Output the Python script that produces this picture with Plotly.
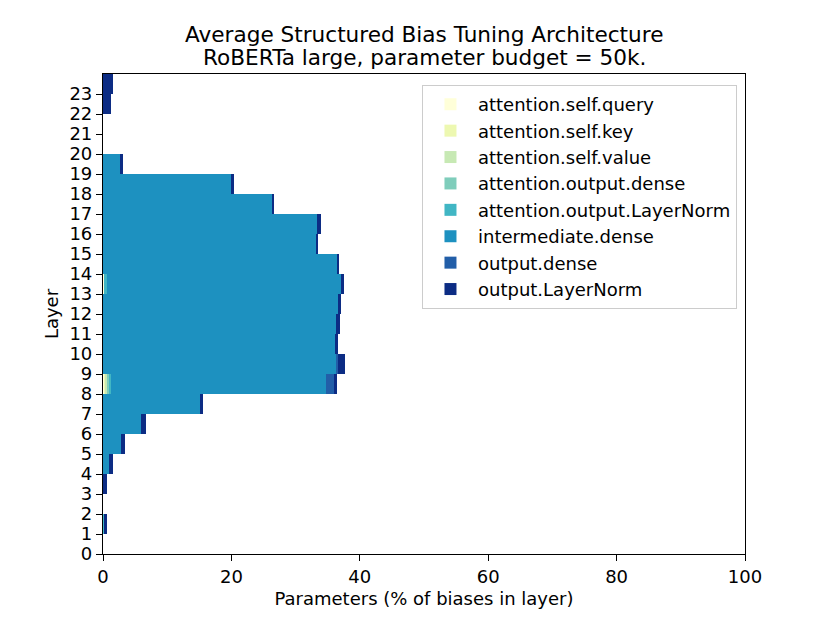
import plotly.graph_objects as go

layers = list(range(24))

components = [
    'attention.self.query',
    'attention.self.key',
    'attention.self.value',
    'attention.output.dense',
    'attention.output.LayerNorm',
    'intermediate.dense',
    'output.dense',
    'output.LayerNorm',
]

colors = ['#ffffd9', '#edf8b1', '#c7e9b4', '#7fcdbb',
          '#41b6c4', '#1d91c0', '#225ea8', '#0c2c84']

# % of biases in layer, per component (layers 0..23)
query = [0, 0, 0, 0, 0, 0, 0, 0, 0.3, 0, 0, 0, 0, 0.2, 0, 0, 0, 0, 0, 0, 0, 0, 0, 0]
key = [0, 0, 0, 0, 0, 0, 0, 0, 0.15, 0, 0, 0, 0, 0, 0, 0, 0, 0, 0, 0, 0, 0, 0, 0]
value = [0, 0, 0, 0, 0, 0, 0, 0, 0.2, 0, 0, 0, 0, 0, 0, 0, 0, 0, 0, 0, 0, 0, 0, 0]
att_dense = [0, 0, 0, 0, 0, 0, 0, 0, 0.3, 0, 0, 0, 0, 0, 0, 0, 0, 0, 0, 0, 0, 0, 0, 0]
att_ln = [0, 0.26, 0, 0, 0, 0, 0, 0, 0.35, 0, 0, 0, 0, 0.35, 0, 0, 0, 0, 0, 0, 0, 0, 0, 0]
intermediate = [0, 0, 0, 0, 0.93, 2.86, 5.97, 15.06, 33.4, 36.4, 36.2, 36.3, 36.6,
                36.55, 36.45, 33.2, 33.4, 26.3, 20.0, 2.8, 0, 0, 0, 0]
out_dense = [0, 0, 0, 0, 0, 0, 0, 0, 1.35, 0.25, 0, 0, 0, 0, 0, 0, 0, 0, 0, 0, 0, 0, 0, 0]
out_ln = [0, 0.31, 0, 0.62, 0.68, 0.51, 0.68, 0.44, 0.47, 1.0, 0.45, 0.55, 0.45,
          0.4, 0.35, 0.3, 0.6, 0.4, 0.35, 0.3, 0, 0, 1.3, 1.56]

series = [query, key, value, att_dense, att_ln, intermediate, out_dense, out_ln]

title_lines = ['Average Structured Bias Tuning Architecture',
               'RoBERTa large, parameter budget = 50k.']

fig = go.Figure()
for name, vals, col in zip(components, series, colors):
    fig.add_trace(go.Bar(
        x=vals, y=layers, name=name, orientation='h',
        width=1, offset=0,
        marker=dict(color=col, line=dict(width=0)),
    ))

font = dict(family='DejaVu Sans', size=18, color='black')

# two-line title as annotations (matplotlib style line spacing)
for i, line in enumerate(title_lines):
    fig.add_annotation(
        text=line, showarrow=False,
        xref='paper', x=0.5, xanchor='center',
        yref='paper', y=1 + (40 - 23 * i) / 480, yanchor='middle',
        font=dict(family='DejaVu Sans', size=21.6, color='black'),
    )

# page body adds ~8px offset, margins compensate for it
fig.update_layout(
    width=830, height=623,
    margin=dict(l=95, r=93, t=66, b=77),
    barmode='stack',
    bargap=0,
    plot_bgcolor='white',
    paper_bgcolor='white',
    font=font,
    xaxis=dict(
        range=[0, 100], tickvals=[0, 20, 40, 60, 80, 100],
        showline=True, linecolor='black', linewidth=1.2, mirror=True,
        ticks='outside', ticklen=6, tickwidth=1.2, tickcolor='black',
        showgrid=False, zeroline=False, automargin=False,
        title=dict(text='Parameters (% of biases in layer)', standoff=6, font=font),
    ),
    yaxis=dict(
        range=[0, 24], tickvals=layers,
        showline=True, linecolor='black', linewidth=1.2, mirror=True,
        ticks='outside', ticklen=6, tickwidth=1.2, tickcolor='black',
        showgrid=False, zeroline=False, automargin=False,
        title=dict(text='Layer', standoff=6, font=font),
    ),
    legend=dict(
        x=0.9875, y=0.977, xanchor='right', yanchor='top',
        bgcolor='white', bordercolor='#cccccc', borderwidth=1,
        traceorder='normal', itemwidth=45,
        font=font,
    ),
)

fig.write_html('out.html')
